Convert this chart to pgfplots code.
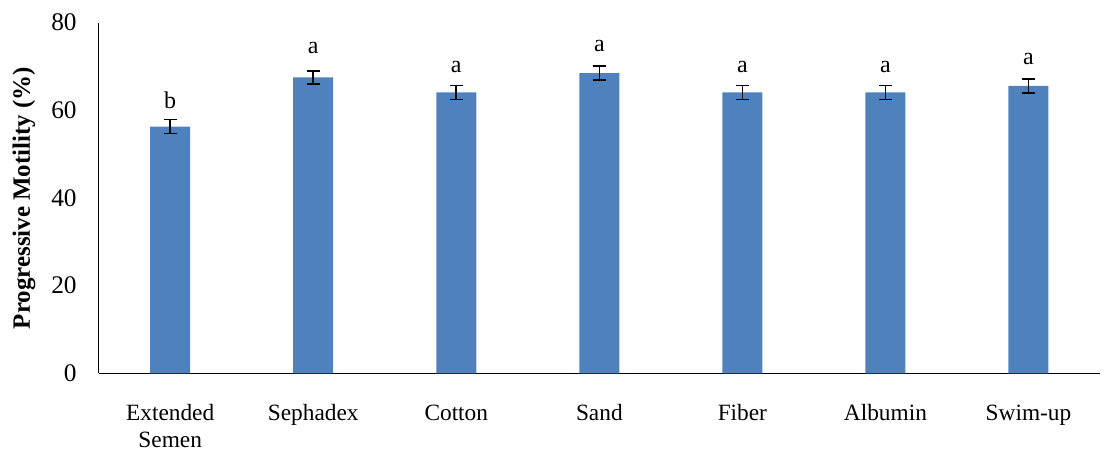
\documentclass[border=0pt]{standalone}
\usepackage{pgfplots}
\pgfplotsset{compat=1.18}
\usepackage{fontspec}
\setmainfont{Liberation Serif}
\definecolor{barblue}{HTML}{4F81BD}
\begin{document}
\begin{tikzpicture}[x=1pt,y=1pt]
\path[use as bounding box] (-74,-61) rectangle (760,280);
\begin{axis}[
  at={(0,0)}, anchor=south west,
  scale only axis,
  width=751pt, height=263pt,
  xmin=-0.5, xmax=6.5, ymin=0, ymax=80,
  axis x line*=bottom, axis y line*=left,
  axis line style={black, line width=0.8pt},
  xtick={0,...,6},
  xticklabels={Extended\\Semen,Sephadex,Cotton,Sand,Fiber,Albumin,Swim-up},
  xticklabel style={align=center, font=\fontsize{17.5}{20}\selectfont, yshift=-20pt},
  ytick={0,20,40,60,80},
  yticklabel style={font=\fontsize{19}{21}\selectfont, xshift=-13pt},
  major tick length=0pt,
  /pgf/number format/assume math mode=true,
  ylabel={\textbf{Progressive Motility (\%)}},
  ylabel style={font=\fontsize{18.7}{20}\selectfont, yshift=5pt},
  clip=false,
]
\addplot[ybar, bar width=30pt, fill=barblue, draw=none,
  error bars/.cd, y dir=both, y explicit,
  error bar style={black, line width=1.2pt},
  error mark options={rotate=90, mark size=4.8pt, line width=1.2pt, black}]
  coordinates {
  (0,56.3) +- (0,1.6)
  (1,67.5) +- (0,1.5)
  (2,64.1) +- (0,1.6)
  (3,68.5) +- (0,1.6)
  (4,64.1) +- (0,1.6)
  (5,64.1) +- (0,1.6)
  (6,65.6) +- (0,1.6)
  };
\node[font=\fontsize{18}{20}\selectfont] at (axis cs:0,62.4) {b};
\node[font=\fontsize{18}{20}\selectfont] at (axis cs:1,74.2) {a};
\node[font=\fontsize{18}{20}\selectfont] at (axis cs:2,70.0) {a};
\node[font=\fontsize{18}{20}\selectfont] at (axis cs:3,74.6) {a};
\node[font=\fontsize{18}{20}\selectfont] at (axis cs:4,70.0) {a};
\node[font=\fontsize{18}{20}\selectfont] at (axis cs:5,70.0) {a};
\node[font=\fontsize{18}{20}\selectfont] at (axis cs:6,71.7) {a};
\end{axis}
\end{tikzpicture}
\end{document}
